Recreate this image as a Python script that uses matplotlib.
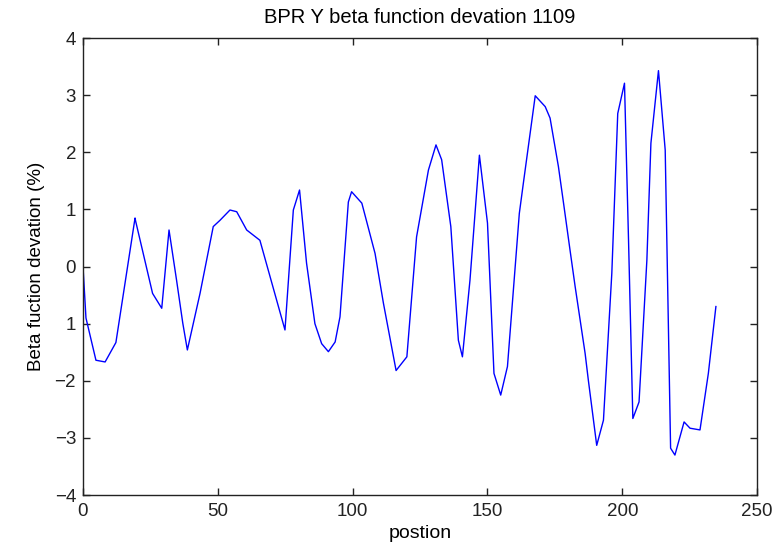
import matplotlib.pyplot as plt

plt.rcParams['font.family'] = ['Liberation Sans', 'DejaVu Sans']

# BPM positions and beta function deviation (%)
position = [0.0, 0.0, 1.1, 4.8, 8.2, 12.2, 19.3, 19.5, 25.8, 29.2, 31.9, 34.7, 37.0,
            38.7, 43.4, 48.3, 50.8, 54.5, 57.0, 60.7, 65.6, 74.9, 78.0, 80.3,
            82.9, 86.0, 88.5, 91.0, 93.5, 95.3, 98.4, 99.6, 103.4, 108.3, 111.4,
            116.1, 120.1, 123.7, 128.1, 130.9, 133.0, 136.4, 139.2, 140.7, 143.5,
            147.0, 150.0, 152.4, 154.9, 157.4, 161.8, 163.3, 167.7, 171.4, 173.2,
            176.3, 178.2, 180.6, 182.5, 186.2, 187.4, 190.5, 193.0, 196.1, 198.3,
            200.8, 202.3, 203.9, 206.2, 209.1, 210.6, 213.4, 215.9, 217.9, 219.5,
            222.9, 225.1, 228.8, 231.9, 234.7]
deviation = [0.85, 0.0, -0.9, -1.64, -1.67, -1.33, 0.85, 0.80, -0.47, -0.73, 0.64, -0.24,
             -0.99, -1.46, -0.47, 0.70, 0.81, 0.99, 0.96, 0.64, 0.46, -1.11, 0.99,
             1.34, 0.06, -1.0, -1.35, -1.49, -1.32, -0.88, 1.13, 1.31, 1.11, 0.23,
             -0.64, -1.82, -1.58, 0.52, 1.69, 2.13, 1.87, 0.70, -1.29, -1.58, -0.24,
             1.95, 0.76, -1.87, -2.25, -1.75, 0.93, 1.46, 2.99, 2.80, 2.60, 1.75,
             1.11, 0.29, -0.35, -1.52, -1.99, -3.13, -2.69, -0.12, 2.68, 3.21, 0.46,
             -2.66, -2.37, 0.11, 2.16, 3.43, 2.04, -3.18, -3.30, -2.72, -2.83,
             -2.86, -1.87, -0.70]

yticks = [-4, -3, -2, -1, 0, 1, 2, 3, 4]
ytick_labels = ['\u22124', '\u22123', '\u22122', '1', '0', '1', '2', '3', '4']
xticks = [0, 50, 100, 150, 200, 250]

fig = plt.figure(figsize=(7.83, 5.44), dpi=100)
ax = fig.add_axes([0.106, 0.090, 0.861, 0.840])
ax.plot(position, deviation, color='#0000ff', linewidth=1.0)

ax.set_xlim(0, 250)
ax.set_ylim(-4, 4)
ax.set_xticks(xticks)
ax.set_yticks(yticks)
ax.set_yticklabels(ytick_labels)
ax.tick_params(direction='in', length=5, width=1, top=True, right=True,
               labelsize=13.5, colors='#222222')
ax.tick_params(axis='x', pad=6)
ax.tick_params(axis='y', pad=5)
for spine in ax.spines.values():
    spine.set_linewidth(1.0)
    spine.set_color('#222222')

ax.set_title('BPR Y beta function devation 1109', fontsize=14.5, pad=11)
ax.set_xlabel('postion', fontsize=14, labelpad=3)
ax.set_ylabel('Beta fuction devation (%)', fontsize=13.5, labelpad=7)

fig.savefig('out.png', dpi=100)
